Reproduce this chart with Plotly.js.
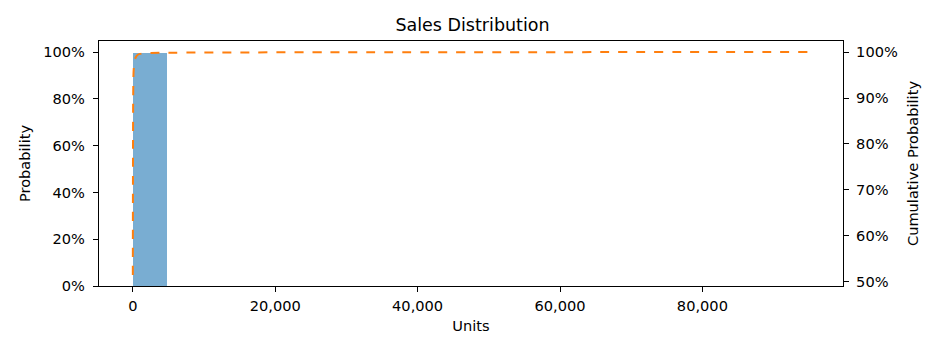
<!DOCTYPE html>
<html><head><meta charset="utf-8">
<script src="https://cdn.plot.ly/plotly-3.0.1.min.js"></script>
<style>html,body{margin:0;padding:0;background:#fff}#c{width:945px;height:354px}</style>
</head><body><div id="c"></div>
<script>
// Histogram bins (left edges, width 4750) and probabilities
const binStarts = [0, 4750, 9500, 14250, 19000, 23750, 28500, 33250, 38000, 42750, 47500, 52250, 57000, 61750, 66500, 71250, 76000, 80750, 85500, 90250];
const binWidth = 4750;
const binProb = [0.997, 0.0015, 0.0005, 0.0002, 0.0001, 0.0001, 0, 0, 0, 0, 0, 0, 0, 0, 0, 0, 0, 0, 0, 0.0001];
// Cumulative distribution points
const cumUnits = [0, 50, 100, 200, 400, 700, 1000, 1500, 2500, 5000, 10000, 30000, 95000];
const cumProb = [0.515, 0.90, 0.955, 0.976, 0.988, 0.994, 0.996, 0.997, 0.998, 0.9985, 0.999, 0.9995, 1.0];

const font = {family: 'DejaVu Sans', size: 14.6, color: '#000'};
const traces = [
  {type: 'bar', x: binStarts.map(b => b + binWidth / 2), y: binProb, width: binWidth,
   marker: {color: 'rgba(31,119,180,0.6)', line: {width: 0}}, yaxis: 'y', hoverinfo: 'skip', showlegend: false},
  {type: 'scatter', mode: 'lines', x: cumUnits, y: cumProb, yaxis: 'y2',
   line: {color: '#ff7f0e', width: 2, dash: 'dash', shape: 'spline', smoothing: 0.6}, showlegend: false}
];
const layout = {
  width: 945, height: 354, margin: {l: 99, r: 102, t: 41, b: 68},
  paper_bgcolor: '#fff', plot_bgcolor: '#fff', font: font, bargap: 0,
  title: {text: 'Sales Distribution', font: {family: 'DejaVu Sans', size: 17.5, color: '#000'}, x: 0.5, xanchor: 'center', y: 0.93, yanchor: 'middle'},
  xaxis: {range: [-4750, 99750], tickvals: [0, 20000, 40000, 60000, 80000], tickformat: ',d',
    showgrid: false, zeroline: false, showline: true, linecolor: '#000', linewidth: 1.2, mirror: true,
    ticks: 'outside', ticklen: 5, tickcolor: '#000', tickfont: font, ticklabelstandoff: 1,
    title: {text: 'Units', font: font, standoff: 8}},
  yaxis: {range: [0, 1.047], tickvals: [0, 0.2, 0.4, 0.6, 0.8, 1.0], tickformat: '.0%',
    showgrid: false, zeroline: false, showline: true, linecolor: '#000', linewidth: 1.2,
    ticks: 'outside', ticklen: 5, tickcolor: '#000', tickfont: font, ticklabelstandoff: 5,
    title: {text: 'Probability', font: font, standoff: 9}},
  yaxis2: {overlaying: 'y', side: 'right', range: [0.491, 1.024], tickvals: [0.5, 0.6, 0.7, 0.8, 0.9, 1.0], tickformat: '.0%',
    showgrid: false, zeroline: false, showline: true, linecolor: '#000', linewidth: 1.2,
    ticks: 'outside', ticklen: 5, tickcolor: '#000', tickfont: font, ticklabelstandoff: 4,
    title: {text: 'Cumulative Probability', font: font, standoff: 10}}
};
Plotly.newPlot('c', traces, layout, {displayModeBar: false, staticPlot: true});
</script></body></html>
